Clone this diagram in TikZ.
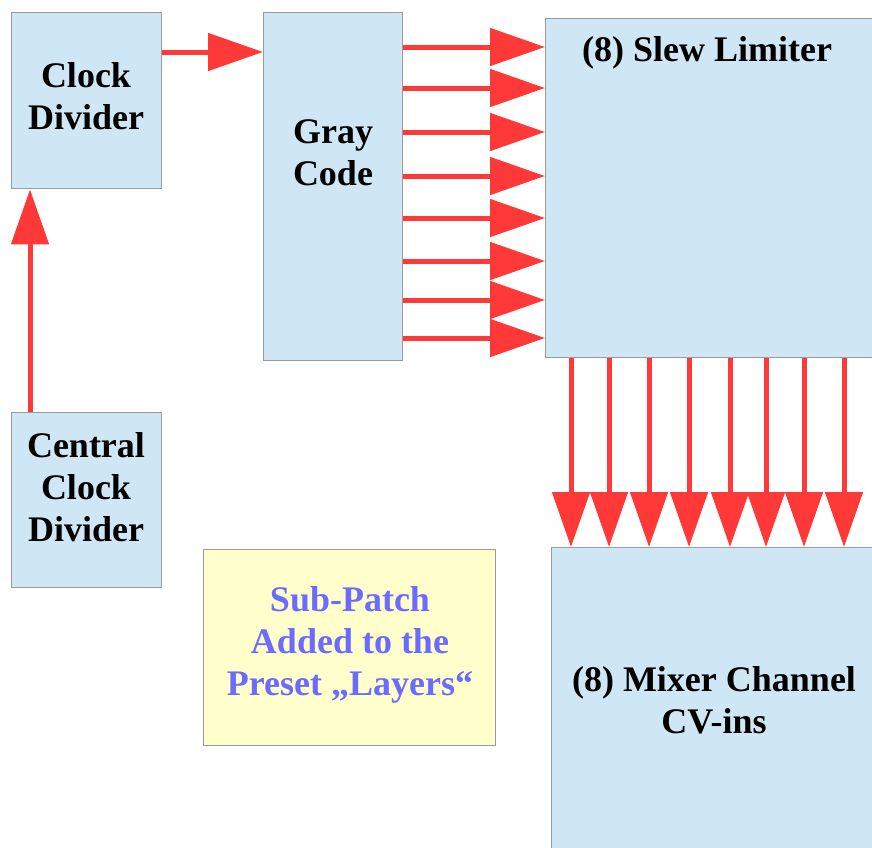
\documentclass[tikz,border=0pt]{standalone}
\usepackage{fontspec}
\setmainfont{Liberation Serif}
\usetikzlibrary{arrows.meta}
\definecolor{boxblue}{HTML}{CFE7F5}
\definecolor{boxline}{HTML}{9A9A9A}
\definecolor{arrred}{HTML}{FF3838}
\definecolor{noteyellow}{HTML}{FFFFCC}
\definecolor{notetext}{HTML}{6B6BFF}
\tikzset{
  box/.style={draw=boxline, line width=1.4pt, fill=boxblue, inner sep=0, anchor=north west},
  notebox/.style={box, fill=noteyellow},
  lbl/.style={font=\fontsize{36}{42}\selectfont\bfseries, align=center, inner sep=0, text=black},
  notelbl/.style={lbl, text=notetext},
  arr/.style={draw=arrred, line width=5pt, -{Triangle[length=55pt,width=37pt]}},
}
\begin{document}
\begin{tikzpicture}[x=1pt,y=-1pt]
\useasboundingbox (0,0) rectangle (872,847);
\clip (0,0) rectangle (872,847);
% boxes
\node[box, minimum width=150, minimum height=176] (clk) at (11,12) {};
\node[box, minimum width=150, minimum height=175] (cen) at (11,412) {};
\node[box, minimum width=139, minimum height=348] (gray) at (263,12) {};
\node[box, minimum width=335, minimum height=339] (slew) at (545,18) {};
\node[box, minimum width=329, minimum height=313] (mix) at (551,547) {};
\node[notebox, minimum width=292, minimum height=196] (sub) at (203,549) {};
% labels
\node[lbl] (clkt) at (86,96) {Clock\\Divider};
\node[lbl] (cent) at (86,487) {Central\\Clock\\Divider};
\node[lbl] (grayt) at (333,153) {Gray\\Code};
\node[lbl] (slewt) at (707,53) {(8) Slew Limiter};
\node[lbl] (mixt) at (714,700) {(8) Mixer Channel\\CV-ins};
\node[notelbl] (subt) at (350,645) {Sub-Patch\\Added to the\\Preset „Layers“};
% arrows
\draw[arr] (clk.east |- 0,52) -- (gray.west |- 0,52);
\draw[arr] (cen.north -| 30,0) -- (clk.south -| 30,0);
\foreach \y in {47,88,132,176,218,261,300,338}
  \draw[arr] (gray.east |- 0,\y) -- (slew.west |- 0,\y);
\foreach \x in {571,609,649,689,730,766,804,844}
  \draw[arr] (slew.south -| \x,0) -- (mix.north -| \x,0);
\end{tikzpicture}
\end{document}
